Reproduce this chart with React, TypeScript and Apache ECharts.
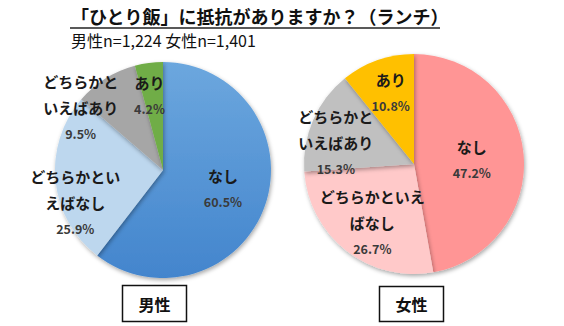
import React, { useEffect, useRef } from "react";
import * as echarts from "echarts";

const categories = ["なし", "どちらかといえばなし", "どちらかといえばあり", "あり"];
const maleValues = [60.5, 25.9, 9.5, 4.2];
const femaleValues = [47.2, 26.7, 15.3, 10.8];
const maleLabelLines = [["なし"], ["どちらかとい", "えばなし"], ["どちらかと", "いえばあり"], ["あり"]];
const femaleLabelLines = [["なし"], ["どちらかといえ", "ばなし"], ["どちらかと", "いえばあり"], ["あり"]];
const maleColors = [
  { type: "linear", x: 0, y: 0, x2: 0, y2: 1, colorStops: [{ offset: 0, color: "#6ca7de" }, { offset: 1, color: "#4385cd" }] },
  "#bdd7ee",
  "#a6a6a6",
  "#70ad47",
];
const femaleColors = ["#ff9595", "#ffc9c9", "#c0c0c0", "#ffc000"];
const maleShift = [[6, 0], [-31, 27], [-52, -14], [-6, -18]];
const femaleShift = [[0, 1], [-6, 13], [-25, 2], [-4, -17]];

const FONT = "'Noto Sans CJK JP', 'Noto Sans', sans-serif";

function pieSeries(values: number[], lines: string[][], colors: any[], shift: number[][], center: string[], radius: number) {
  return {
    type: "pie",
    center,
    radius,
    startAngle: 90,
    clockwise: true,
    silent: true,
    data: values.map((v, i) => ({
      name: categories[i],
      value: v,
      itemStyle: { color: colors[i] },
      label: {
        formatter: lines[i].map((l) => `{n|${l}}`).join("\n") + `\n{p|${v.toFixed(1)}%}`,
      },
    })),
    itemStyle: {
      borderWidth: 0,
      shadowColor: "rgba(0,0,0,0.35)",
      shadowBlur: 4,
      shadowOffsetX: 1,
      shadowOffsetY: 2,
    },
    label: {
      show: true,
      position: "inside",
      rich: {
        n: { fontFamily: FONT, fontSize: 15, fontWeight: "bold", color: "#1a1a1a", lineHeight: 26, align: "center" },
        p: { fontFamily: FONT, fontSize: 12.5, fontWeight: "bold", color: "#3a3a3a", lineHeight: 26, align: "center" },
      },
    },
    labelLine: { show: false },
    labelLayout: (params: any) => ({ dx: shift[params.dataIndex][0], dy: shift[params.dataIndex][1] }),
  };
}

export default function App() {
  const ref = useRef<HTMLDivElement>(null);
  useEffect(() => {
    if (!ref.current) return;
    const chart = echarts.init(ref.current, null, { renderer: "svg" });
    chart.setOption({
      animation: false,
      backgroundColor: "#ffffff",
      graphic: [
        {
          type: "text",
          left: 71,
          top: 7,
          style: { text: "「ひとり飯」に抵抗がありますか？（ランチ）", font: `bold 18px ${FONT}`, fill: "#111" },
        },
        { type: "line", shape: { x1: 70, y1: 28, x2: 440, y2: 28 }, style: { stroke: "#222", lineWidth: 1.5 } },
        {
          type: "text",
          left: 71,
          top: 32,
          style: { text: "男性n=1,224 女性n=1,401", font: `16px ${FONT}`, fill: "#111" },
        },
        { type: "rect", shape: { x: 122.5, y: 285.5, width: 64, height: 36 }, style: { fill: "#fff", stroke: "#111", lineWidth: 1.5 } },
        { type: "text", x: 154.5, y: 303.5, style: { text: "男性", font: `bold 16px ${FONT}`, fill: "#111", align: "center", verticalAlign: "middle" } },
        { type: "rect", shape: { x: 379.5, y: 286.5, width: 64, height: 35 }, style: { fill: "#fff", stroke: "#111", lineWidth: 1.5 } },
        { type: "text", x: 411.5, y: 304, style: { text: "女性", font: `bold 16px ${FONT}`, fill: "#111", align: "center", verticalAlign: "middle" } },
      ],
      series: [
        pieSeries(maleValues, maleLabelLines, maleColors, maleShift, ["163", "170"], 108),
        pieSeries(femaleValues, femaleLabelLines, femaleColors, femaleShift, ["414", "164"], 110),
      ],
    });
    return () => chart.dispose();
  }, []);
  return <div ref={ref} style={{ position: "absolute", left: 0, top: 0, width: 564, height: 326 }} />;
}
